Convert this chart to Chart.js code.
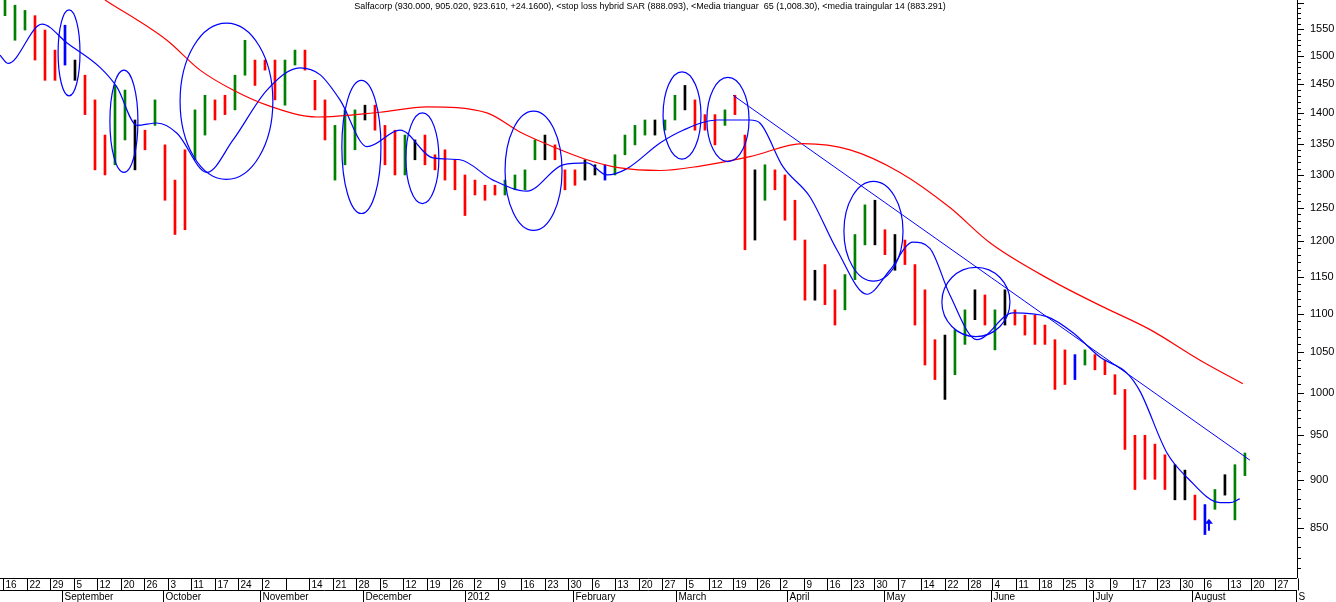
<!DOCTYPE html>
<html>
<head>
<meta charset="utf-8">
<script src="https://cdn.jsdelivr.net/npm/chart.js@4/dist/chart.umd.min.js"></script>
<style>
  html, body { margin: 0; padding: 0; background: #fff; }
  canvas { display: block; }
</style>
</head>
<body>
<canvas id="c" width="1336" height="602"></canvas>
<script>
// daily bars (every other session), high / low and colour code
const highs = [1605,1595,1585,1575,1548,1511,1557,1493,1466,1423,1364,1448,1440,1389,1372,1423,1348,1292,1340,1406,
  1431,1423,1431,1466,1529,1493,1493,1493,1493,1511,1511,1457,1423,1380,1406,1406,1414,1414,1380,1372,
  1364,1356,1364,1332,1340,1324,1300,1292,1284,1284,1292,1300,1308,1356,1364,1348,1308,1308,1324,1316,
  1316,1332,1364,1380,1389,1389,1389,1431,1448,1423,1398,1398,1406,1431,1364,1308,1316,1308,1300,1261,
  1202,1159,1167,1132,1153,1210,1254,1261,1217,1210,1202,1167,1132,1066,1072,1079,1105,1132,1125,1105,
  1132,1105,1098,1098,1085,1066,1053,1047,1053,1047,1040,1022,1004,950,950,940,928,917,911,884,
  874,890,906,917,930];
const lows = [1575,1529,1548,1493,1457,1457,1484,1457,1398,1308,1300,1316,1356,1308,1340,1380,1261,1210,1217,1324,
  1364,1389,1398,1406,1466,1448,1475,1423,1414,1484,1475,1406,1356,1292,1316,1340,1389,1372,1316,1300,
  1300,1324,1316,1308,1292,1277,1238,1269,1261,1269,1269,1277,1277,1324,1324,1324,1277,1284,1292,1300,
  1292,1300,1332,1348,1364,1364,1372,1389,1406,1372,1372,1348,1380,1398,1188,1202,1261,1277,1231,1202,
  1118,1118,1112,1085,1105,1146,1195,1195,1181,1159,1167,1085,1034,1016,992,1022,1060,1092,1085,1053,
  1085,1085,1072,1060,1060,1004,1010,1016,1034,1028,1022,998,934,890,901,901,890,879,879,858,
  843,869,884,858,905];
const barColors = 'gggrrrbkrrrggkrgrrrggrrggrrrggrrrgggkrrrgkrrrrrrrrggggkrrrkkbggggkggkrrrgrrkgrrrrkrrgggkrkrrrrkggkrgkrrrrrrbgrrrrrrrrkkrbgkg';

// triangular moving averages: week position / value
const ma65Weeks = [4.33,6.96,8.37,9.77,11.21,13.33,16.01,18.00,20.55,21.95,23.35,24.80,26.20,27.90,29.60,31.72,33.97,35.97,38.09,40.21,41.91,44.46,46.58,48.71,50.83,52.65];
const ma65Values = [1605,1529,1475,1440,1414,1394,1402,1411,1401,1369,1345,1324,1311,1307,1314,1329,1350,1340,1304,1250,1198,1146,1111,1079,1040,1011];
const ma14Weeks = [-0.13,0.21,1.66,2.72,4.12,4.84,5.69,6.54,7.39,8.66,9.77,11.21,12.61,13.46,14.31,15.46,16.86,18.26,19.41,20.81,22.25,23.78,24.80,25.65,26.50,
  27.90,28.88,30.32,31.72,32.14,33.12,34.27,35.41,36.69,37.66,38.64,39.36,40.21,41.36,42.89,44.33,45.44,46.58,47.73,48.28,49.43,50.28,51.68,52.10,52.52];
const ma14Values = [1502,1487,1559,1524,1480,1445,1380,1384,1367,1304,1356,1440,1479,1467,1423,1345,1372,1327,1324,1292,1275,1316,1319,1300,1310,
  1351,1372,1389,1389,1384,1313,1266,1188,1126,1159,1199,1190,1125,1066,1101,1096,1075,1044,1024,1002,930,903,876,876,880];
const trendWeeks = [31.0, 52.95];
const trendValues = [1431, 922];

// hand-drawn ellipses: [left week, right week, top value, bottom value]
const ellipses = [[2.34,3.27,1586,1430],[4.54,5.73,1475,1304],[7.52,11.46,1561,1293],[14.39,16.05,1457,1241],[17.11,18.51,1401,1256],
  [21.32,23.74,1404,1216],[28.03,29.64,1472,1325],[29.89,31.68,1462,1321],[35.71,38.22,1290,1144],[39.87,42.76,1163,1070]];
const arrowAt = [51.21, 852];

const weekLabels = ['16','22','29','5','12','20','26','3','11','17','24','2','','14','21','28','5','12','19','26','2','9','16','23','30',
  '6','13','20','27','5','12','19','26','2','9','16','23','30','7','14','22','28','4','11','18','25','3','9','17','23','30','6','13','20','27','3'];
const monthLabels = ['September','October','November','December','2012','February','March','April','May','June','July','August','S'];
const monthStarts = [2.5,6.8,10.9,15.3,19.6,24.2,28.6,33.3,37.4,41.95,46.3,50.5,54.9];
const yTicks = [850,900,950,1000,1050,1100,1150,1200,1250,1300,1350,1400,1450,1500,1550];

const title = 'Salfacorp (930.000, 905.020, 923.610, +24.1600), <stop loss hybrid SAR (888.093), <Media trianguar  65 (1,008.30), <media traingular 14 (883.291)';

const colorMap = { g: '#008000', r: '#ff0000', k: '#000000', b: '#0000ff' };
const barStep = 10 / 23.55; // weeks between plotted bars
const barData = highs.map((h, i) => ({ x: 0.085 + i * barStep, y: [lows[i], h] }));
const pts = (xs, ys) => xs.map((x, i) => ({ x: x, y: ys[i] }));
const font = '"Liberation Sans Narrow", "Liberation Sans", Arial, sans-serif';

const decor = {
  id: 'decor',
  afterDatasetsDraw(chart) {
    const { ctx, chartArea: a, scales: { x, y } } = chart;
    ctx.save();
    // ellipses
    ctx.strokeStyle = '#0000ff';
    ctx.lineWidth = 1.2;
    ellipses.forEach(e => {
      const x1 = x.getPixelForValue(e[0]), x2 = x.getPixelForValue(e[1]);
      const y1 = y.getPixelForValue(e[2]), y2 = y.getPixelForValue(e[3]);
      ctx.beginPath();
      ctx.ellipse((x1 + x2) / 2, (y1 + y2) / 2, (x2 - x1) / 2, (y2 - y1) / 2, 0, 0, Math.PI * 2);
      ctx.stroke();
    });
    // arrow
    const ax = x.getPixelForValue(arrowAt[0]), ay = y.getPixelForValue(arrowAt[1]);
    ctx.fillStyle = '#0000ff';
    ctx.beginPath();
    ctx.moveTo(ax, ay - 7); ctx.lineTo(ax + 4, ay - 2); ctx.lineTo(ax - 4, ay - 2); ctx.closePath(); ctx.fill();
    ctx.fillRect(ax - 1, ay - 3, 2, 8);

    // right axis line and ticks
    ctx.strokeStyle = '#000';
    ctx.lineWidth = 1;
    ctx.beginPath();
    ctx.moveTo(a.right + 0.5, 0); ctx.lineTo(a.right + 0.5, a.bottom);
    for (let v = 800; v <= 1600; v += 10) {
      const py = Math.round(y.getPixelForValue(v)) + 0.5;
      if (py < a.top || py > a.bottom) continue;
      ctx.moveTo(a.right, py); ctx.lineTo(a.right + (v % 50 === 0 ? 7 : 4), py);
    }
    ctx.stroke();

    // bottom date rows
    const r0 = a.bottom + 0.5, r1 = r0 + 12, r2 = r0 + 24;
    ctx.beginPath();
    ctx.moveTo(0, r0); ctx.lineTo(a.right, r0);
    ctx.moveTo(0, r1); ctx.lineTo(a.right, r1);
    ctx.stroke();
    ctx.font = '10px ' + font;
    ctx.fillStyle = '#000';
    ctx.textBaseline = 'middle';
    ctx.textAlign = 'left';
    weekLabels.forEach((t, i) => {
      const px = Math.round(x.getPixelForValue(i)) + 0.5;
      if (px > a.right + 2) return;
      ctx.beginPath(); ctx.moveTo(px, r0); ctx.lineTo(px, r1); ctx.stroke();
      if (px < a.right - 4) ctx.fillText(t, px + 2, r0 + 6.5);
    });
    monthLabels.forEach((t, i) => {
      const px = Math.round(x.getPixelForValue(monthStarts[i])) + 0.5;
      if (px > a.right + 2) return;
      ctx.beginPath(); ctx.moveTo(px, r1); ctx.lineTo(px, r2); ctx.stroke();
      ctx.fillText(t, px + 2, r1 + 6.5);
    });

    // title
    ctx.font = '9px ' + font;
    ctx.textAlign = 'center';
    ctx.fillText(title, 650, 7);
    ctx.restore();
  }
};

new Chart(document.getElementById('c'), {
  data: {
    datasets: [
      { type: 'bar', data: barData, order: 3, barThickness: 2,
        backgroundColor: barColors.split('').map(c => colorMap[c]), borderWidth: 0 },
      { type: 'line', data: pts(ma65Weeks, ma65Values), order: 1, borderColor: '#ff0000', borderWidth: 1.2,
        pointRadius: 0, cubicInterpolationMode: 'monotone' },
      { type: 'line', data: pts(ma14Weeks, ma14Values), order: 1, borderColor: '#0000ff', borderWidth: 1.2,
        pointRadius: 0, cubicInterpolationMode: 'monotone' },
      { type: 'line', data: pts(trendWeeks, trendValues), order: 1, borderColor: '#0000ff', borderWidth: 1,
        pointRadius: 0 }
    ]
  },
  options: {
    responsive: false,
    animation: false,
    devicePixelRatio: 1,
    layout: { padding: { top: 0, left: 0, right: 0, bottom: 24 } },
    plugins: { legend: { display: false }, tooltip: { enabled: false } },
    scales: {
      x: { type: 'linear', min: -0.127, max: 54.95, display: false, offset: false, bounds: 'data' },
      y: {
        type: 'logarithmic', position: 'right', min: 800, max: 1605, bounds: 'data',
        grid: { display: false }, border: { display: false },
        afterBuildTicks: s => { s.ticks = yTicks.map(v => ({ value: v })); },
        afterFit: s => { s.width = 39; s.paddingTop = 0; s.paddingBottom = 0; },
        ticks: { color: '#000', font: { family: font, size: 11 }, padding: 5, callback: v => String(v) }
      }
    }
  },
  plugins: [decor]
});
</script>
</body>
</html>
